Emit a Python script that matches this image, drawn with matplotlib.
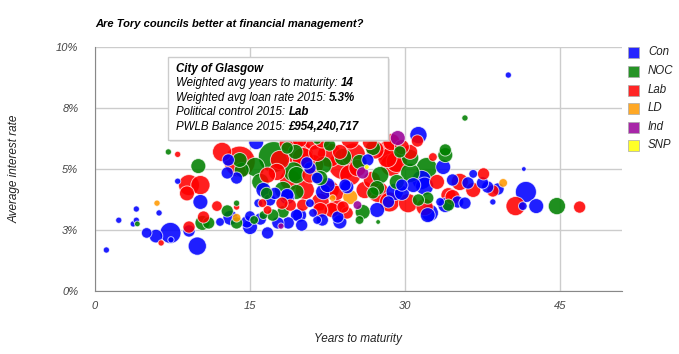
import matplotlib
matplotlib.use("Agg")
import matplotlib.pyplot as plt
from matplotlib.patches import Rectangle, FancyBboxPatch
import numpy as np

plt.rcParams["font.family"] = ["Liberation Sans", "DejaVu Sans"]

# council data: party, weighted avg years to maturity, weighted avg rate (%), PWLB balance (GBP m)
party = [
    "NOC", "Lab", "Con", "LD", "Con", "Con", "Con", "Con", "Con", "NOC",
    "Con", "Con", "Con", "Con", "Lab", "Con",
    "Lab", "Con", "Lab", "NOC", "NOC", "Lab", "Con", "LD", "NOC", "Lab",
    "NOC", "NOC", "Con", "Lab", "Con", "Con", "Con", "Con", "Con", "Con",
    "Con", "NOC", "Lab", "Con", "NOC", "Lab", "NOC", "NOC", "Con", "Con",
    "Lab", "Lab", "NOC", "Con", "Con", "Con", "Ind", "Con", "Lab", "Con",
    "NOC",
    "NOC", "Lab", "Con", "NOC", "NOC", "Con", "Con", "NOC", "Lab", "Lab",
    "NOC", "Lab", "Lab", "NOC", "NOC", "Lab", "NOC", "Con", "NOC", "NOC",
    "Con", "Con", "Lab",
    "NOC", "Ind", "Con", "Lab", "Lab", "Lab", "Lab", "NOC", "Lab", "Lab",
    "NOC", "NOC", "Lab", "Lab", "NOC", "Con", "NOC", "Con", "Lab", "Con",
    "NOC", "Ind", "SNP", "NOC", "Lab", "Lab", "Lab", "NOC", "NOC", "NOC",
    "Lab", "NOC", "Con", "Con", "NOC", "NOC", "Lab", "Con", "Lab", "Con",
    "Con", "Lab", "NOC", "Con", "NOC", "Con", "NOC", "Lab",
    "Lab", "Con", "Con", "LD", "Lab", "Con", "Lab", "Ind", "NOC", "NOC",
    "Con", "NOC", "Con", "Lab", "Con", "NOC", "Con", "Lab", "NOC", "Con",
    "NOC", "Lab", "Con", "Lab", "NOC", "Lab", "Con",
    "Con", "Con", "Con", "Lab", "Con", "Con", "LD", "Lab", "Con", "Con",
    "Lab", "Con", "Con", "NOC", "Lab", "Con", "Lab", "Con", "Lab", "Con",
    "Con", "Con", "Lab",
    "Lab", "Lab", "NOC", "Lab", "Lab", "Lab", "Lab", "Lab", "Lab", "Con",
    "Lab", "Lab", "Lab", "Lab", "Lab", "Lab", "NOC", "Con", "Con", "Con",
    "Con", "LD", "Lab", "Lab",
    "Lab", "Lab", "Lab", "Lab", "Lab", "Lab", "Con", "Con", "Con",
]
years = [
    7.1, 8.0, 8.0, 6.0, 4.0, 6.2, 2.3, 4.0, 3.7, 4.1,
    5.0, 5.9, 7.3, 7.35, 6.4, 1.1,
    8.9, 10.2, 11.8, 12.8, 13.7, 13.7, 13.1, 13.7, 13.7, 10.5,
    10.4, 11.0, 12.1, 9.1, 9.1, 9.9, 15.0, 15.0, 14.7, 16.7,
    16.0, 15.4, 16.2, 15.8, 16.6, 16.7, 16.3, 17.2, 17.4, 18.6,
    18.1, 18.9, 18.2, 17.7, 18.7, 20.0, 18.0, 19.5, 20.1, 20.8,
    19.5,
    10.0, 14.0, 12.9, 14.0, 15.5, 12.8, 13.7, 14.2, 10.2, 9.1,
    17.3, 17.9, 20.1, 19.4, 18.6, 17.6, 19.5, 20.5, 18.2, 16.0,
    16.3, 15.6, 12.3,
    35.8, 29.3, 31.3, 28.7, 29.7, 31.2, 26.6, 26.9, 25.0, 22.7,
    24.0, 22.7, 21.5, 21.1, 22.1, 20.8, 21.8, 22.5, 25.4, 26.4,
    25.6, 25.9, 26.3, 27.6, 26.8, 28.3, 29.2, 30.5, 32.1, 30.5,
    30.5, 29.5, 31.6, 30.8, 33.9, 33.9, 32.7, 33.7, 35.3, 34.6,
    36.1, 33.1, 29.2, 29.7, 27.3, 24.2, 21.5, 23.7,
    21.8, 22.0, 21.1, 24.7, 24.0, 23.5, 24.4, 25.4, 25.9, 25.6,
    27.3, 27.4, 28.4, 30.3, 29.7, 31.3, 32.2, 31.9, 32.2, 33.4,
    34.2, 34.6, 35.8, 23.4, 26.9, 22.9, 21.5,
    40.0, 41.5, 36.6, 37.6, 37.5, 38.0, 39.5, 38.5, 39.0, 41.7,
    40.7, 41.4, 42.7, 44.7, 46.9, 38.5, 36.6, 35.1, 27.4, 29.0,
    32.4, 33.9, 34.2,
    25.8, 23.5, 27.4, 19.8, 22.7, 18.9, 20.3, 24.7, 26.1, 16.9,
    19.8, 24.0, 28.7, 28.5, 21.8, 23.4, 19.2, 24.4, 21.5, 18.6,
    22.1, 23.0, 28.3, 21.1,
    18.7, 22.0, 24.7, 27.1, 20.8, 16.7, 19.8, 23.7, 31.9,
]
rate = [
    5.7, 5.6, 4.5, 3.6, 3.36, 3.2, 2.9, 2.9, 2.75, 2.75,
    2.38, 2.25, 2.38, 2.1, 1.97, 1.68,
    4.0, 3.65, 3.48, 3.28, 3.6, 3.44, 3.0, 3.0, 2.79, 3.03,
    2.79, 2.79, 2.83, 2.62, 2.46, 1.84, 3.07, 2.62, 2.83, 2.38,
    2.95, 2.91, 3.6, 3.6, 4.0, 3.32, 3.11, 3.11, 4.0, 3.85,
    3.6, 3.52, 3.24, 2.79, 2.79, 2.7, 2.66, 3.11, 3.52, 3.6,
    4.06,
    5.12, 5.3, 5.37, 5.37, 5.08, 4.84, 4.63, 4.96, 4.34, 4.34,
    5.49, 5.37, 5.45, 5.7, 5.86, 4.88, 4.75, 5.25, 4.14, 4.47,
    4.14, 6.1, 5.7,
    7.09, 6.27, 6.39, 6.1, 5.9, 6.15, 6.1, 5.86, 5.57, 5.57,
    5.49, 5.98, 5.66, 5.16, 5.16, 5.04, 4.63, 4.34, 5.04, 5.37,
    5.29, 4.84, 5.08, 4.75, 4.55, 5.45, 5.29, 4.84, 5.04, 5.45,
    5.7, 5.7, 4.55, 4.34, 5.78, 5.57, 5.49, 5.08, 4.47, 4.55,
    4.43, 4.47, 4.47, 4.34, 4.22, 4.34, 6.19, 5.7,
    3.32, 2.91, 3.2, 3.85, 3.44, 3.03, 3.2, 3.52, 3.24, 2.91,
    3.32, 2.83, 3.65, 3.6, 4.02, 3.73, 3.11, 3.44, 3.81, 3.65,
    3.52, 3.85, 3.6, 4.02, 4.02, 3.32, 2.91,
    8.85, 5.0, 4.8, 4.8, 4.43, 4.26, 4.43, 4.1, 4.18, 4.06,
    3.48, 3.48, 3.48, 3.48, 3.44, 3.65, 4.14, 3.65, 4.06, 4.06,
    3.2, 3.52, 3.93,
    6.48, 6.52, 6.48, 6.19, 4.14, 4.55, 4.14, 4.75, 4.14, 3.73,
    5.66, 5.16, 5.16, 3.65, 3.65, 3.4, 4.88, 4.26, 4.63, 3.93,
    4.06, 3.81, 5.7, 6.19,
    6.07, 6.19, 6.19, 5.78, 4.75, 4.75, 3.11, 2.83, 4.3,
]
balance = [
    36, 36, 36, 36, 36, 36, 36, 36, 36, 30,
    108, 180, 433, 36, 36, 36,
    217, 217, 108, 144, 36, 36, 217, 72, 144, 144,
    217, 144, 72, 144, 144, 325, 108, 217, 144, 144,
    144, 72, 72, 72, 144, 72, 72, 144, 144, 217,
    144, 144, 144, 144, 144, 144, 36, 144, 144, 72,
    217,
    217, 954, 144, 217, 361, 144, 144, 217, 361, 433,
    940, 361, 433, 217, 144, 289, 289, 144, 289, 289,
    217, 217, 361,
    36, 217, 289, 289, 217, 144, 217, 217, 578, 578,
    289, 144, 289, 433, 289, 144, 217, 217, 289, 144,
    217, 144, 20, 289, 289, 361, 433, 361, 433, 289,
    217, 144, 361, 217, 144, 217, 72, 217, 289, 144,
    144, 217, 217, 144, 217, 144, 72, 217,
    217, 144, 72, 217, 144, 144, 144, 72, 217, 72,
    217, 20, 144, 361, 217, 144, 217, 289, 144, 72,
    144, 217, 144, 217, 144, 217, 72,
    36, 20, 72, 144, 144, 144, 72, 144, 144, 433,
    361, 72, 217, 289, 144, 36, 217, 144, 433, 289,
    289, 217, 217,
    289, 217, 144, 217, 361, 433, 361, 433, 289, 144,
    699, 822, 484, 391, 308, 308, 391, 172, 128, 172,
    235, 42, 484, 391,
    317, 250, 317, 317, 250, 250, 190, 190, 317,
]

parties = ["Con", "NOC", "Lab", "LD", "Ind", "SNP"]
colors = {"Con": "#0000ff", "NOC": "#008000", "Lab": "#ff0000",
          "LD": "#ff9900", "Ind": "#990099", "SNP": "#ffff00"}

W, H = 679, 354
fig = plt.figure(figsize=(W / 100, H / 100), dpi=100)
fig.patch.set_facecolor("white")


def fx(px):
    return px / W


def fy(py):
    return 1 - py / H


ax = fig.add_axes([fx(95), fy(291), fx(622) - fx(95), fy(47) - fy(291)])
ax.set_xlim(0, 51)
ax.set_ylim(0, 10)

# bubbles, biggest first so small ones sit on top
order = np.argsort(balance, kind="stable")[::-1]
x = np.array(years)[order]
y = np.array(rate)[order]
b = np.array(balance, dtype=float)[order]
p = [party[i] for i in order]
r_px = 0.1 + 0.5 * np.sqrt(b)
sizes = (2 * r_px * 0.72) ** 2
fc = [matplotlib.colors.to_rgba(colors[k], 0.88) for k in p]
ax.scatter(x, y, s=sizes, c=fc, edgecolors=(1, 1, 1, 0.7), linewidths=0.7, zorder=3)

ax.set_xticks([0, 15, 30, 45])
ax.set_yticks([0, 2.5, 5, 7.5, 10])
ax.set_yticklabels(["0%", "3%", "5%", "8%", "10%"])
ax.grid(True, color="#cccccc", linewidth=1, zorder=0)
ax.set_axisbelow(True)
ax.tick_params(length=0, labelsize=8, labelcolor="#444444")
ax.tick_params(axis="y", pad=12)
ax.tick_params(axis="x", pad=7)
for lab in ax.get_xticklabels() + ax.get_yticklabels():
    lab.set_style("italic")
for s in ["top", "right"]:
    ax.spines[s].set_visible(False)
for s in ["left", "bottom"]:
    ax.spines[s].set_color("#888888")

fig.text(fx(95), fy(24), "Are Tory councils better at financial management?",
         fontsize=8.0, fontweight="bold", style="italic", va="center", ha="left")
fig.text(fx(358), fy(339), "Years to maturity", fontsize=8.5, style="italic",
         color="#222222", ha="center", va="center")
fig.text(fx(15), fy(169), "Average interest rate", fontsize=8.5, style="italic",
         color="#222222", ha="center", va="center", rotation=90)

# legend
leg_y = [52, 71, 90, 108, 127, 145]
for k, ly in zip(parties, leg_y):
    fig.patches.append(Rectangle((fx(628), fy(ly + 5.5)), fx(11), 11 / H,
                                 transform=fig.transFigure,
                                 facecolor=matplotlib.colors.to_rgba(colors[k], 0.85),
                                 edgecolor="#aaaaaa", linewidth=0.5))
    fig.text(fx(648), fy(ly), k, fontsize=8.3, style="italic", color="#222222",
             va="center", ha="left")

# tooltip for Glasgow
fig.patches.append(FancyBboxPatch((fx(170), fy(142)), fx(220), 83 / H,
                                  boxstyle="square,pad=0", transform=fig.transFigure,
                                  facecolor="#dddddd", edgecolor="none", alpha=0.6, zorder=5))
fig.patches.append(FancyBboxPatch((fx(168), fy(140)), fx(220), 83 / H,
                                  boxstyle="square,pad=0", transform=fig.transFigure,
                                  facecolor="white", edgecolor="#cccccc", linewidth=1, zorder=6))

tip = [("City of Glasgow", ""),
       ("Weighted avg years to maturity: ", "14"),
       ("Weighted avg loan rate 2015: ", "5.3%"),
       ("Political control 2015: ", "Lab"),
       ("PWLB Balance 2015: ", "£954,240,717")]
tip_y = [69, 83, 98, 112, 127]
renderer = fig.canvas.get_renderer()
for (a, bold), ty in zip(tip, tip_y):
    if not bold:
        fig.text(fx(176), fy(ty), a, fontsize=8.3, fontweight="bold", style="italic",
                 va="center", ha="left", zorder=7)
        continue
    t = fig.text(fx(176), fy(ty), a, fontsize=8.3, style="italic", va="center",
                 ha="left", zorder=7)
    ext = t.get_window_extent(renderer)
    fig.text(ext.x1 / W, fy(ty), bold, fontsize=8.3, fontweight="bold",
             style="italic", va="center", ha="left", zorder=7)

fig.savefig("out.png", dpi=100)
